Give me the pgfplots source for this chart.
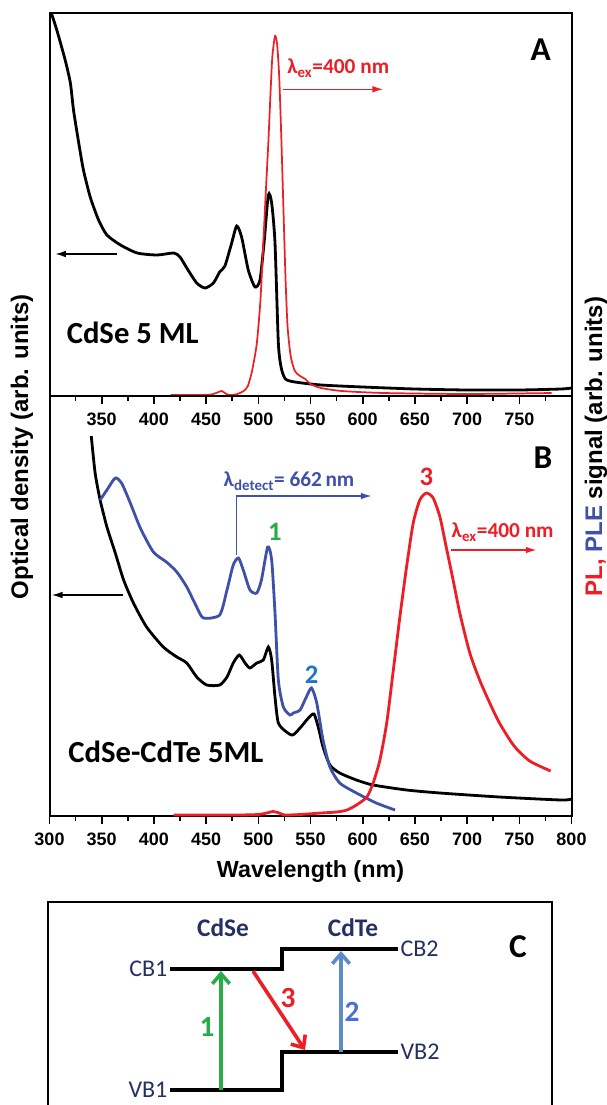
\documentclass[border=0pt]{standalone}
\usepackage{pgfplots}
\pgfplotsset{compat=1.18}
\usepackage{fontspec}
\setmainfont{Liberation Sans}
\newfontfamily\calib{Carlito}
\usetikzlibrary{arrows.meta}

\definecolor{plred}{RGB}{236,30,38}
\definecolor{pleblue}{RGB}{62,80,168}
\definecolor{numgreen}{RGB}{40,172,72}
\definecolor{numblue}{RGB}{32,118,196}
\definecolor{navy}{RGB}{36,48,98}
\definecolor{steel}{RGB}{92,140,200}

\pgfplotsset{
  spec/.style={
    scale only axis, width=391.5pt,
    xmin=300, xmax=800,
    xtick pos=bottom, tick align=outside,
    ytick=\empty,
    axis line style={line width=1.5pt},
    major tick length=6pt, minor tick length=3.5pt,
    every tick/.style={black, line width=1.2pt},
    /pgf/number format/assume math mode=true,
    /pgf/number format/1000 sep={},
    xticklabel style={font=\bfseries\fontsize{13.5}{14}\selectfont, yshift=-3.5pt},
    clip=true,
  },
}

\begin{document}
\begin{tikzpicture}
\path[use as bounding box] (0,0) rectangle (454.5pt,-828.75pt);

% ---- panel A ----
\begin{axis}[spec, height=287.25pt, at={(37.125pt,-297pt)}, anchor=south west,
  ymin=0, ymax=383,
  xtick={350,400,...,750}, minor xtick={325,375,...,775}]
\addplot[black, line width=2.1pt, smooth, tension=0.4] coordinates {
 (300,386)(302,382)(307,366)(315,336)(320,313)(323,286)(328,253)(332.5,226)
 (339,199)(347,176)(355,161)(368,151)(384,143)(403,141)(419,143)(425,139)
 (431.5,128)(441,113)(449,108)(457,113)(463,124)(468,130)(474.5,153)(479.3,170)
 (484,159)(490.4,126)(496.8,109)(501.6,116)(505.5,153)(509.6,201)(512.8,193)
 (516,153)(519.2,53)(522,28)(526,17)(535,14)(560,11)(600,9)(650,7)(700,6)
 (750,6)(790,7)(800,8)};
\addplot[plred, line width=1.3pt, smooth, tension=0.4] coordinates {
 (416,1)(440,1)(455,1.5)(462,4)(465,5)(468,3)(472,1)(480,2)(486,5)(490,10)
 (494,25)(498.5,52)(502,95)(504.8,153)(507,200)(509.6,253)(512,310)(513.5,340)
 (516,360)(518,352)(520,320)(522,260)(524,190)(526,120)(528,70)(531,40)
 (535,25)(540,20)(545,17)(550,12)(560,8)(580,5)(620,3)(700,2)(781,3)};
\draw[black, line width=1pt, -{Latex[length=8pt,width=5pt]}] (axis cs:364.5,142) -- (axis cs:305.5,142);
\draw[plred, line width=1pt, -{Latex[length=8pt,width=5pt]}] (axis cs:523.3,306.7) -- (axis cs:619.6,306.7);
\node[plred, anchor=west, inner sep=0pt, font=\calib\bfseries\fontsize{16}{18}\selectfont]
  at (axis cs:527.5,328) {λ\textsubscript{ex}=400 nm};
\node[font=\calib\bfseries\fontsize{23}{26}\selectfont] at (axis cs:379.7,63) {CdSe 5 ML};
\node[font=\calib\bfseries\fontsize{25}{28}\selectfont] at (axis cs:770.5,346) {A};
\end{axis}

% ---- panel B ----
\begin{axis}[spec, height=315pt, at={(37.125pt,-612pt)}, anchor=south west,
  ymin=0, ymax=420,
  xtick={300,350,...,800}, minor xtick={325,375,...,775},
  xlabel={Wavelength (nm)},
  xlabel style={font=\bfseries\fontsize{17.5}{20}\selectfont, yshift=-4pt}]
\addplot[black, line width=2.1pt, smooth, tension=0.4] coordinates {
 (340,380)(343.7,343)(348.5,316)(355,289)(363,263)(371,236)(380.4,213)(393,189)
 (409,169)(422,159)(431.5,153)(441,139)(450.6,131)(463,131)(470,139)(476,153)
 (481.8,161)(487.3,153)(492,148)(498.5,153)(504.8,156)(509.6,169)(512.8,156)
 (516,119)(519.2,93)(527,84)(533,81)(540,88)(548,98)(553.3,102)(557.4,89)
 (562,69)(568.6,51)(578,43)(594,36)(610,31)(642,26)(674,23)(731,19)(790,16)(800,17)};
\addplot[pleblue, line width=2.1pt, smooth, tension=0.4] coordinates {
 (348.5,316)(355,326)(363,338)(369,333)(377,314)(387,288)(399.5,264)(412,254)
 (422,244)(431.5,229)(441,209)(447.4,198)(463,201)(470,226)(476,251)(481,258)
 (485.6,246)(492,226)(498.5,223)(503,236)(509,269)(512.8,256)(516,203)(519.2,136)
 (524,109)(530.4,101)(533.5,103)(540,106)(546,119)(551,128)(556,113)(562,76)
 (568.6,49)(578,33)(594,23)(613,13)(631,6)};
\addplot[plred, line width=2.1pt, smooth, tension=0.4] coordinates {
 (419,1)(450,1)(480,1)(500,1.5)(508,3)(514,4.5)(520,3)(525,1)(540,1.5)(560,3)
 (575,4)(585,6)(594,11)(604,19)(610,33)(616.5,56)(623,93)(629,143)(635.6,199)
 (642,249)(648.4,293)(654.7,316)(661,323)(667.5,318)(674,299)(680,269)(686.6,236)
 (693,203)(702.6,163)(712,136)(721.7,113)(731,93)(745,70)(760,55)(780,45)};
\draw[black, line width=1pt, -{Latex[length=8pt,width=5pt]}] (axis cs:370.8,221) -- (axis cs:302.3,221);
\draw[pleblue, line width=1pt, -{Latex[length=8pt,width=5pt]}] (axis cs:479.3,261) -- (axis cs:479.3,320) -- (axis cs:608.5,320);
\draw[plred, line width=1pt, -{Latex[length=8pt,width=5pt]}] (axis cs:685,266) -- (axis cs:766.4,266);
\node[pleblue, anchor=west, inner sep=0pt, font=\calib\bfseries\fontsize{16}{18}\selectfont]
  at (axis cs:466.6,335) {λ\textsubscript{detect}= 662\,nm};
\node[plred, anchor=west, inner sep=0pt, font=\calib\bfseries\fontsize{16}{18}\selectfont]
  at (axis cs:685,284) {λ\textsubscript{ex}=400 nm};
\node[numgreen, font=\calib\bfseries\fontsize{20}{22}\selectfont] at (axis cs:516,284) {1};
\node[numblue, font=\calib\bfseries\fontsize{20}{22}\selectfont] at (axis cs:551,141) {2};
\node[plred, font=\calib\bfseries\fontsize{20}{22}\selectfont] at (axis cs:661,339) {3};
\node[font=\calib\bfseries\fontsize{23}{26}\selectfont] at (axis cs:411.5,64) {CdSe-CdTe 5ML};
\node[font=\calib\bfseries\fontsize{25}{28}\selectfont] at (axis cs:772.7,358) {B};
\end{axis}

% ---- shared axis titles ----
\node[rotate=90, font=\bfseries\fontsize{18}{20}\selectfont] at (16.5pt,-335pt) {Optical density (arb. units)};
\node[rotate=90, font=\bfseries\fontsize{18}{20}\selectfont] at (447pt,-335pt)
  {\textcolor{plred}{PL,} \textcolor{pleblue}{PLE} signal (arb. units)};

% ---- panel C: band scheme ----
\begin{axis}[scale only axis, hide axis, width=378pt, height=152.25pt,
  at={(36pt,-676.5pt)}, anchor=north west,
  xmin=48, xmax=552, ymin=902, ymax=1105, y dir=reverse, clip=false]
\draw[black, line width=1.6pt] (axis cs:48,1110) -- (axis cs:48,902) -- (axis cs:552,902) -- (axis cs:552,1110);
\addplot[black, line width=2.7pt] coordinates {(170,969)(282,969)(282,949)(398,949)};
\addplot[black, line width=2.7pt] coordinates {(170,1090)(282,1090)(282,1052)(398,1052)};
\draw[numgreen, line width=2.7pt, -{Straight Barb[length=7.5pt,width=13pt]}] (axis cs:221,1090) -- (axis cs:221,971);
\draw[steel, line width=2.7pt, -{Straight Barb[length=7.5pt,width=13pt]}] (axis cs:341,1052) -- (axis cs:341,951);
\draw[plred, line width=2.7pt, -{Straight Barb[length=7.5pt,width=13pt]}] (axis cs:253,971) -- (axis cs:305,1050);
\node[numgreen, font=\calib\bfseries\fontsize{22}{24}\selectfont] at (axis cs:207,1027) {1};
\node[steel!80!blue, font=\calib\bfseries\fontsize{22}{24}\selectfont] at (axis cs:352,1012) {2};
\node[plred, font=\calib\bfseries\fontsize{22}{24}\selectfont] at (axis cs:288,998) {3};
\node[navy, font=\calib\bfseries\fontsize{19}{22}\selectfont] at (axis cs:223,928) {CdSe};
\node[navy, font=\calib\bfseries\fontsize{19}{22}\selectfont] at (axis cs:353,928) {CdTe};
\node[navy, anchor=east, inner sep=1pt, font=\calib\fontsize{18}{22}\selectfont] at (axis cs:169,969) {CB1};
\node[navy, anchor=east, inner sep=1pt, font=\calib\fontsize{18}{22}\selectfont] at (axis cs:169,1090) {VB1};
\node[navy, anchor=west, inner sep=1pt, font=\calib\fontsize{18}{22}\selectfont] at (axis cs:399,949) {CB2};
\node[navy, anchor=west, inner sep=1pt, font=\calib\fontsize{18}{22}\selectfont] at (axis cs:399,1052) {VB2};
\node[font=\calib\bfseries\fontsize{25}{28}\selectfont] at (axis cs:518,947) {C};
\end{axis}
\end{tikzpicture}
\end{document}
